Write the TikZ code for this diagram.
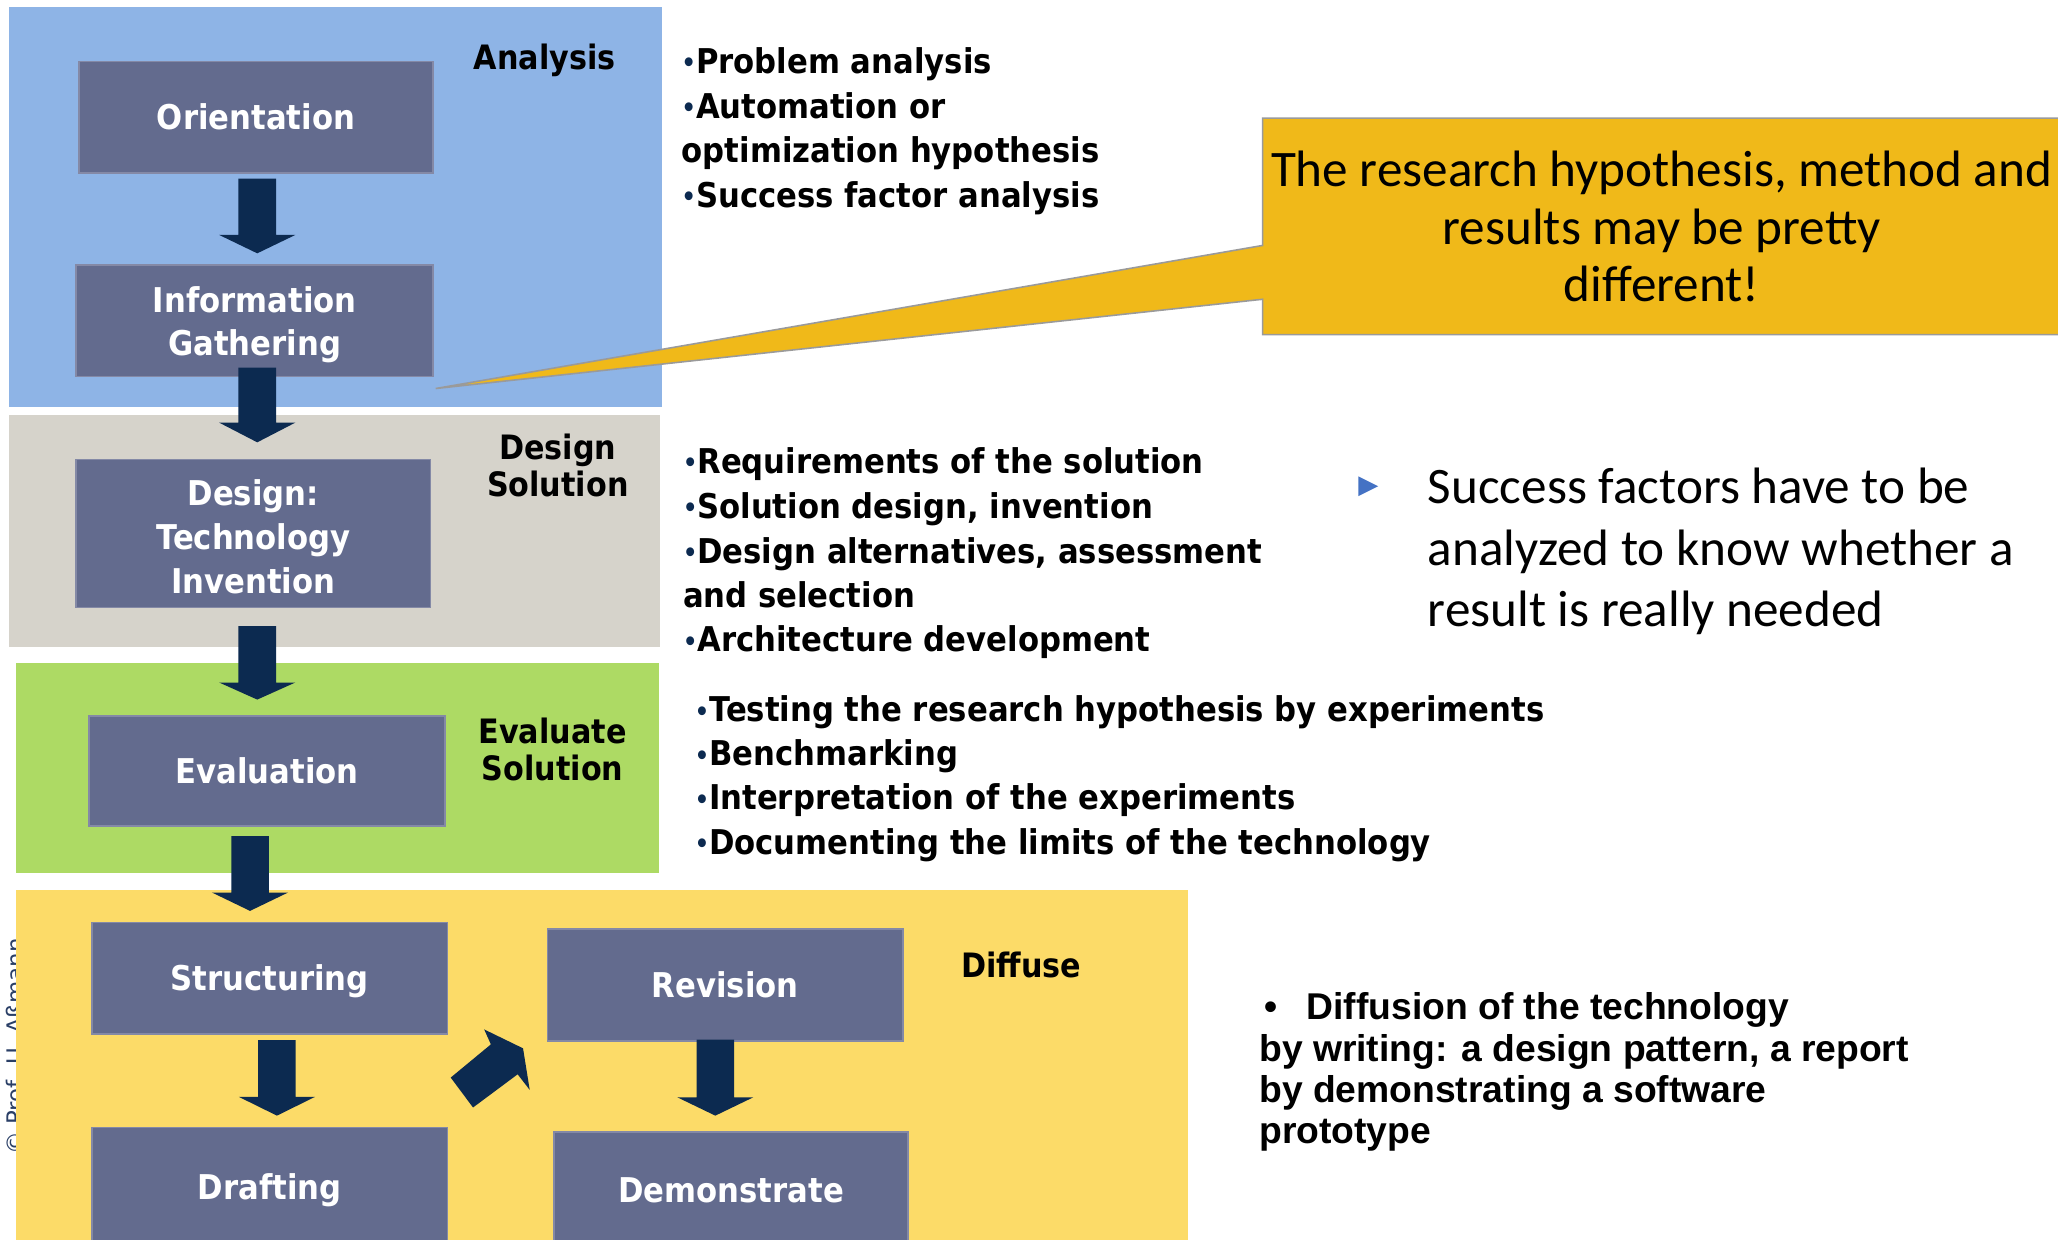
\documentclass[tikz,border=0pt]{standalone}
\usepackage{fontspec}
\newfontfamily\condf{DejaVu Sans}[FakeStretch=0.9]
\newfontfamily\carlf{Carlito}
\newfontfamily\arialf{Liberation Sans}
\newfontfamily\dvsf{DejaVu Sans}
\definecolor{blueA}{HTML}{8EB4E6}
\definecolor{grayD}{HTML}{D6D3CB}
\definecolor{greenE}{HTML}{ADDA64}
\definecolor{yellowF}{HTML}{FCDB68}
\definecolor{slate}{HTML}{636B8E}
\definecolor{slateedge}{HTML}{8489A6}
\definecolor{navy}{HTML}{0C2A50}
\definecolor{gold}{HTML}{F0B919}
\definecolor{goldedge}{HTML}{9A9A9A}
\definecolor{tri}{HTML}{4472C4}
\definecolor{copyc}{HTML}{2A3F66}
\newcommand\bul{{\color{navy}\fontsize{9.5}{9.5}\selectfont\raisebox{0.6pt}{\textbullet}}}
\newcommand\downarr[4]{\fill[navy] (#1-14.3,#2) -- (#1+14.3,#2) -- (#1+14.3,#3) -- (#1+29,#3) -- (#1,#4) -- (#1-29,#3) -- (#1-14.3,#3) -- cycle;}
\tikzset{
  stagebox/.style={fill=slate, draw=slateedge, line width=0.6pt, text=white, align=center, inner sep=0pt,
    font=\condf\bfseries\fontsize{13}{16.6}\selectfont},
  oneline/.style={text height=9.5pt, text depth=0pt},
  seclbl/.style={inner sep=0pt, anchor=base, font=\condf\bfseries\fontsize{12.8}{14}\selectfont},
  itm/.style={inner sep=0pt, anchor=base west, font=\condf\bfseries\fontsize{13}{17}\selectfont},
  carl/.style={inner sep=0pt, font=\carlf\fontsize{19.5}{22}\selectfont},
  arl/.style={inner sep=0pt, anchor=base west, font=\arialf\bfseries\fontsize{14.2}{15.5}\selectfont},
  copytext/.style={inner sep=0pt, text=copyc, font=\dvsf\fontsize{8.7}{10}\selectfont}
}
\begin{document}
\begin{tikzpicture}[x=0.5pt,y=-0.5pt]
\useasboundingbox (0,0) rectangle (1568,944);
\fill[white] (0,0) rectangle (1568,944);
% copyright (partly hidden)
\node[copytext, rotate=90, anchor=base west] (copy) at (18,880) {© Prof. U. Aßmann};
% phase backgrounds
\fill[blueA] (7,5) rectangle (504,310);
\fill[grayD] (7,316) rectangle (503,493);
\fill[greenE] (12,505) rectangle (502,665);
\fill[yellowF] (12,678) rectangle (905,950);
% callout
\filldraw[fill=gold, draw=goldedge, line width=0.6pt]
  (962,90) -- (1575,90) -- (1575,255) -- (962,255) -- (962,228) -- (332,296) -- (962,187) -- cycle;
% stage boxes
\node[stagebox, oneline, minimum width=135pt, minimum height=42.5pt] (orient) at (195,89.5) {Orientation};
\node[stagebox, minimum width=136pt, minimum height=42.5pt] (info) at (194,244.5) {};
\node[text=white, align=center, inner sep=0pt, font=\condf\bfseries\fontsize{13}{16.6}\selectfont] (infot) at (194,247.5) {Information\\Gathering};
\node[stagebox, minimum width=135pt, minimum height=56.5pt] (design) at (193,406.5) {};
\node[text=white, align=center, inner sep=0pt, font=\condf\bfseries\fontsize{13}{16.6}\selectfont] (designt) at (193,409) {Design:\\Technology\\Invention};
\node[stagebox, oneline, minimum width=135.5pt, minimum height=42pt] (eval) at (203.5,587.5) {Evaluation};
\node[stagebox, oneline, minimum width=135.5pt, minimum height=42.5pt] (struct) at (205.5,745.5) {Structuring};
\node[stagebox, oneline, minimum width=135.5pt, minimum height=45.5pt] (draft) at (205.5,904.5) {Drafting};
\node[stagebox, oneline, minimum width=135.5pt, minimum height=42.5pt] (revis) at (552.5,750.5) {Revision};
\node[stagebox, oneline, minimum width=135pt, minimum height=44pt] (demo) at (557,906.5) {Demonstrate};
% block arrows
\downarr{196}{136}{179}{193}
\downarr{196}{280}{322}{337}
\downarr{196}{477}{520}{533}
\downarr{190.5}{637}{680}{694}
\downarr{211}{792.5}{835.7}{850}
\downarr{545}{792}{836}{850}
\fill[navy] (343.4,821) -- (374,795.7) -- (368.9,784.3) -- (398.5,798.7) -- (403.6,830.4) -- (394.4,818.5) -- (360.4,843.8) -- cycle;
% section labels
\node[seclbl, anchor=base west] (lanalysis) at (360.5,52.8) {Analysis};
\node[seclbl] (ldesign1) at (425,350) {Design};
\node[seclbl] (ldesign2) at (425,378) {Solution};
\node[seclbl] (leval1) at (421,566.4) {Evaluate};
\node[seclbl] (leval2) at (421,594.4) {Solution};
\node[seclbl] (ldiffuse) at (778,744.7) {Diffuse};
% analysis items
\node[itm] (a1) at (519,56) {\bul Problem analysis};
\node[itm] (a2) at (519,90) {\bul Automation or};
\node[itm] (a3) at (519,124) {optimization hypothesis};
\node[itm] (a4) at (519,158) {\bul Success factor analysis};
% design items
\node[itm] (d1) at (520,360.6) {\bul Requirements of the solution};
\node[itm] (d2) at (520,395) {\bul Solution design, invention};
\node[itm] (d3) at (520,429) {\bul Design alternatives, assessment};
\node[itm] (d4) at (520,462.5) {and selection};
\node[itm] (d5) at (520,496.6) {\bul Architecture development};
% evaluation items
\node[itm] (e1) at (529,550) {\bul Testing the research hypothesis by experiments};
\node[itm] (e2) at (529,583.5) {\bul Benchmarking};
\node[itm] (e3) at (529,617) {\bul Interpretation of the experiments};
\node[itm] (e4) at (529,651) {\bul Documenting the limits of the technology};
% diffuse items
\node[arl] (f0) at (963,777) {•};
\node[arl] (f1) at (995,777) {Diffusion of the technology};
\node[arl] (f2) at (959,809) {by writing: a design pattern, a report};
\node[arl] (f3) at (959,840) {by demonstrating a software};
\node[arl] (f4) at (959,871) {prototype};
% success factor note
\fill[tri] (1035,363) -- (1050,370.5) -- (1035,378) -- cycle;
\node[carl, anchor=base west] (s1) at (1087.5,383.7) {Success factors have to be};
\node[carl, anchor=base west] (s2) at (1087.5,430.5) {analyzed to know whether a};
\node[carl, anchor=base west] (s3) at (1087.5,477.5) {result is really needed};
% callout text
\node[carl, anchor=base] (c1) at (1266,142) {The research hypothesis, method and};
\node[carl, anchor=base] (c2) at (1266,186) {results may be pretty};
\node[carl, anchor=base] (c3) at (1266,230) {different!};
\end{tikzpicture}
\end{document}
